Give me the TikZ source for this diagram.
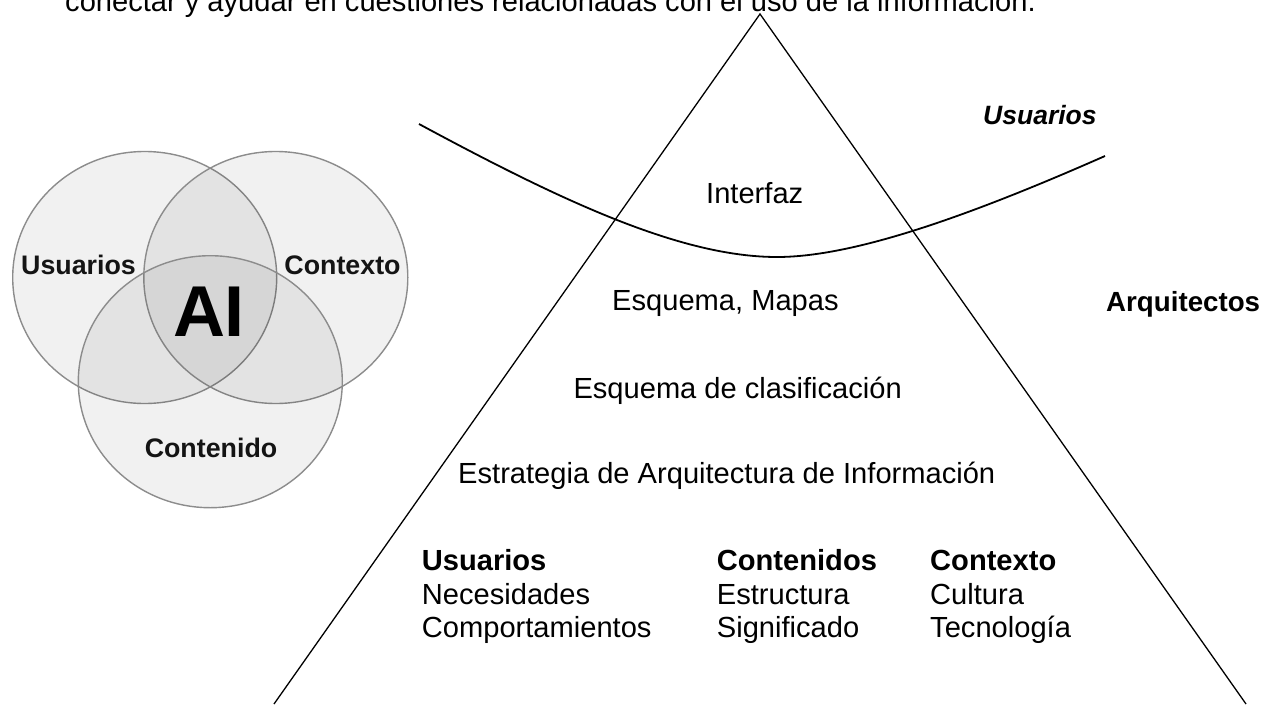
\documentclass[tikz,border=0pt]{standalone}
\usepackage{fontspec}
\setmainfont{Liberation Sans}
\begin{document}
\begin{tikzpicture}[x=1pt,y=-1pt,
  txt/.style={anchor=base west,inner sep=0pt,font=\fontsize{29.1}{34}\selectfont},
  btxt/.style={txt,font=\fontsize{29.1}{34}\selectfont\bfseries},
  venn/.style={draw=black!45,line width=1.4pt,fill=black,fill opacity=0.055},
  vlab/.style={inner sep=0pt,text=black!92,font=\fontsize{26.8}{30}\selectfont\bfseries},
  edge/.style={line width=1.3pt,black},
  wave/.style={line width=1.8pt,black}]
\useasboundingbox (0,0) rectangle (1263,704);
\fill[white] (0,0) rectangle (1263,704);
% top cut text
\node[txt] (toptext) at (65,12) {conectar y ayudar en cuestiones relacionadas con el uso de la información.};
% Venn diagram
\path[venn] (144.7,277.5) ellipse [x radius=132, y radius=126];
\path[venn] (275.8,277.5) ellipse [x radius=132, y radius=126];
\path[venn] (210.3,381.7) ellipse [x radius=132, y radius=126];
\node[vlab] (vusu) at (78.5,265) {Usuarios};
\node[vlab] (vcon) at (342.5,265) {Contexto};
\node[vlab] (vcnt) at (211,448) {Contenido};
\node[inner sep=0pt,font=\fontsize{72}{72}\selectfont\bfseries] (ai) at (209,312) {AI};
% triangle
\coordinate (apex) at (760,14);
\coordinate (bl) at (274,704);
\coordinate (br) at (1246,704);
\draw[edge,line join=miter] (bl) -- (apex) -- (br);
% wave
\coordinate (ws) at (419,124);
\coordinate (wm) at (777,257);
\coordinate (we) at (1105,156);
\draw[wave] (ws) .. controls (560,200) and (680,257) .. (wm)
                 .. controls (850,257) and (960,220) .. (we);
% labels
\node[txt,font=\fontsize{26.5}{30}\selectfont\bfseries\itshape] (usu) at (983,124.3) {Usuarios};
\node[txt] (interfaz) at (706,203.3) {Interfaz};
\node[txt] (mapas) at (612,310) {Esquema, Mapas};
\node[btxt,font=\fontsize{27.7}{32}\selectfont\bfseries] (arq) at (1106,311.7) {Arquitectos};
\node[txt] (clasif) at (573.3,398.3) {Esquema de clasificación};
\node[txt] (estr) at (458,483.3) {Estrategia de Arquitectura de Información};
% columns
\node[btxt] (c1h) at (421.7,570.5) {Usuarios};
\node[txt] (c1a) at (421.7,604) {Necesidades};
\node[txt] (c1b) at (421.7,637.5) {Comportamientos};
\node[btxt] (c2h) at (716.7,570.5) {Contenidos};
\node[txt] (c2a) at (716.7,604) {Estructura};
\node[txt] (c2b) at (716.7,637.5) {Significado};
\node[btxt] (c3h) at (930,570.5) {Contexto};
\node[txt] (c3a) at (930,604) {Cultura};
\node[txt] (c3b) at (930,637.5) {Tecnología};
\end{tikzpicture}
\end{document}
